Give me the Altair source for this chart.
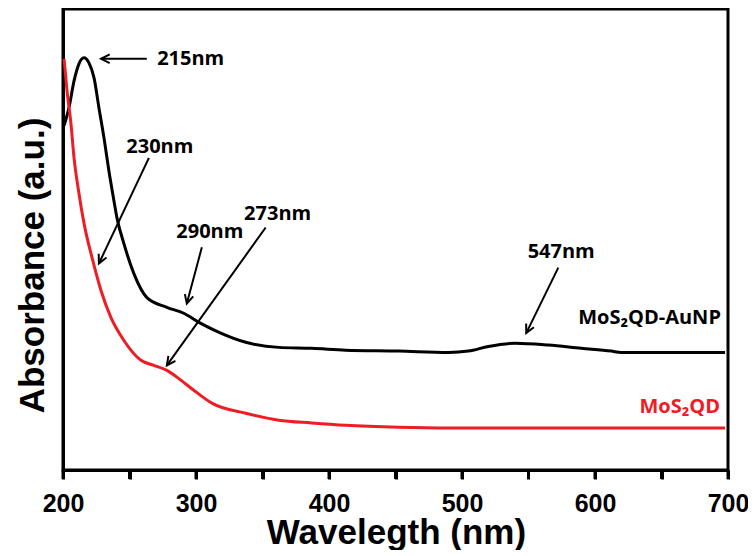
import math
import altair as alt
import pandas as pd

# ---- data ----
black_wl = [200.8, 204.5, 208.3, 212.0, 215.8, 219.5, 223.3, 227.0, 230.8, 234.5, 238.3, 240.5,
            245.8, 253.3, 263.1, 278.1, 290.8, 303.6, 318.6, 337.4, 362.2, 386.9, 412.5, 452.3,
            489.8, 504.8, 519.8, 540.1, 564.9, 589.6, 612.2, 619.7, 697.8]
black_abs = [0.747, 0.786, 0.844, 0.881, 0.894, 0.883, 0.851, 0.786, 0.721, 0.649, 0.584, 0.548,
             0.491, 0.426, 0.374, 0.353, 0.340, 0.318, 0.297, 0.277, 0.266, 0.264, 0.260, 0.258,
             0.255, 0.258, 0.268, 0.275, 0.271, 0.264, 0.258, 0.255, 0.255]

red_wl = [200.8, 203.0, 206.0, 208.3, 212.0, 215.8, 221.8, 228.5, 236.0, 245.8, 258.6, 268.3,
          278.1, 288.6, 298.3, 311.9, 337.4, 362.2, 386.9, 412.5, 452.3, 512.3, 697.8]
red_abs = [0.892, 0.823, 0.751, 0.677, 0.600, 0.535, 0.461, 0.390, 0.331, 0.281, 0.238, 0.227,
           0.216, 0.195, 0.173, 0.145, 0.123, 0.108, 0.102, 0.097, 0.093, 0.091, 0.091]

series_names = ["MoS\u2082QD-AuNP", "MoS\u2082QD"]
series_colors = ["#000000", "#ee1c24"]

ann_text = ["215nm", "230nm", "290nm", "273nm", "547nm"]
ann_wl = [296.0, 272.8, 310.4, 361.4, 574.6]
ann_abs = [0.892, 0.701, 0.517, 0.556, 0.472]

arrow_tail_wl = [263.0, 264.6, 304.4, 352.4, 572.4]
arrow_tail_abs = [0.892, 0.677, 0.483, 0.526, 0.439]
arrow_tip_wl = [228.6, 227.0, 293.1, 278.1, 548.3]
arrow_tip_abs = [0.892, 0.448, 0.361, 0.227, 0.297]

label_wl = [694.7, 694.0]
label_abs = [0.329, 0.136]

x_ticks = [200, 250, 300, 350, 400, 450, 500, 550, 600, 650, 700]

W, H = 665, 461
TICK_LEN = 9
X_DOM = [200, 700]
Y_DOM = [0, 1]

# ---- tables ----
curves = pd.concat([
    pd.DataFrame({"wl": black_wl, "abs": black_abs, "series": series_names[0]}),
    pd.DataFrame({"wl": red_wl, "abs": red_abs, "series": series_names[1]}),
])

# arrowhead angle in screen space (derived from scale sizes)
px_per_nm = W / (X_DOM[1] - X_DOM[0])
px_per_abs = H / (Y_DOM[1] - Y_DOM[0])
angles = []
for tw, ta, hw, ha in zip(arrow_tail_wl, arrow_tail_abs, arrow_tip_wl, arrow_tip_abs):
    dx = (hw - tw) * px_per_nm
    dy = -(ha - ta) * px_per_abs
    ang = math.degrees(math.atan2(dx, -dy)) % 360
    angles.append(ang)

arrows = pd.DataFrame({
    "x": arrow_tail_wl, "y": arrow_tail_abs,
    "x2": arrow_tip_wl, "y2": arrow_tip_abs, "angle": angles,
})
anns = pd.DataFrame({"text": ann_text, "wl": ann_wl, "abs": ann_abs})
labels = pd.DataFrame({"text": series_names, "wl": label_wl, "abs": label_abs,
                       "series": series_names})
ticks_df = pd.DataFrame({"wl": x_ticks})

xscale = alt.Scale(domain=X_DOM, nice=False, zero=False)
yscale = alt.Scale(domain=Y_DOM, nice=False, zero=False)
cscale = alt.Scale(domain=series_names, range=series_colors)

FONT = "Liberation Sans"
AFONT = "Open Sans"

x_axis = alt.Axis(
    values=x_ticks,
    labelExpr="datum.value % 100 === 0 ? datum.label : ''",
    ticks=True, tickSize=TICK_LEN, tickWidth=3, tickColor="black", tickOpacity=1,
    grid=False, domainColor="black", domainWidth=3, zindex=1,
    labelFont=FONT, labelFontSize=25, labelFontWeight="bold", labelColor="black",
    labelPadding=12, labelFlush=False, labelOverlap=False,
    title="Wavelegth (nm)", titleFont=FONT, titleFontSize=35, titleFontWeight="bold",
    titleColor="black", titleX=333, titleY=73, titleBaseline="alphabetic", titleAlign="center",
)
y_axis = alt.Axis(
    labels=False, ticks=False, grid=False, domainColor="black", domainWidth=3,
    title="Absorbance (a.u.)", titleFont=FONT, titleFontSize=35, titleFontWeight="bold",
    titleColor="black", titleX=-20, titleY=256, titleAngle=270,
    titleBaseline="alphabetic", titleAlign="center",
)

lines = alt.Chart(curves).mark_line(strokeWidth=3, interpolate="monotone").encode(
    x=alt.X("wl:Q", scale=xscale, axis=x_axis),
    y=alt.Y("abs:Q", scale=yscale, axis=y_axis),
    color=alt.Color("series:N", scale=cscale, legend=None),
    detail="series:N",
)

tick_marks = alt.Chart(ticks_df).mark_rule(color="black", strokeWidth=3, clip=False).encode(
    x="wl:Q", y=alt.value(H), y2=alt.value(H + TICK_LEN),
)

arrow_lines = alt.Chart(arrows).mark_rule(color="black", strokeWidth=2).encode(
    x="x:Q", y="y:Q", x2="x2:Q", y2="y2:Q",
)
arrow_heads = alt.Chart(arrows).mark_point(
    shape="M-0.5,1 L0,0 L0.5,1", filled=False, color="black", strokeWidth=2, size=300, opacity=1,
).encode(
    x="x2:Q", y="y2:Q", angle=alt.Angle("angle:Q", scale=None),
)

ann_marks = alt.Chart(anns).mark_text(
    font=AFONT, fontSize=20, fontWeight="bold", color="black", align="center", baseline="middle",
).encode(x="wl:Q", y="abs:Q", text="text:N")

label_marks = alt.Chart(labels).mark_text(
    font=AFONT, fontSize=20, fontWeight="bold", align="right", baseline="middle",
).encode(
    x="wl:Q", y="abs:Q", text="text:N",
    color=alt.Color("series:N", scale=cscale, legend=None),
)

chart = alt.layer(lines, tick_marks, arrow_lines, arrow_heads, ann_marks, label_marks).properties(
    width=W, height=H,
    autosize=alt.AutoSizeParams(type="none"),
    padding={"left": 55, "top": 1, "right": 20, "bottom": 80},
).configure_view(stroke="black", strokeWidth=3)

chart.save("out.html", embed_options={"renderer": "svg", "actions": False})
